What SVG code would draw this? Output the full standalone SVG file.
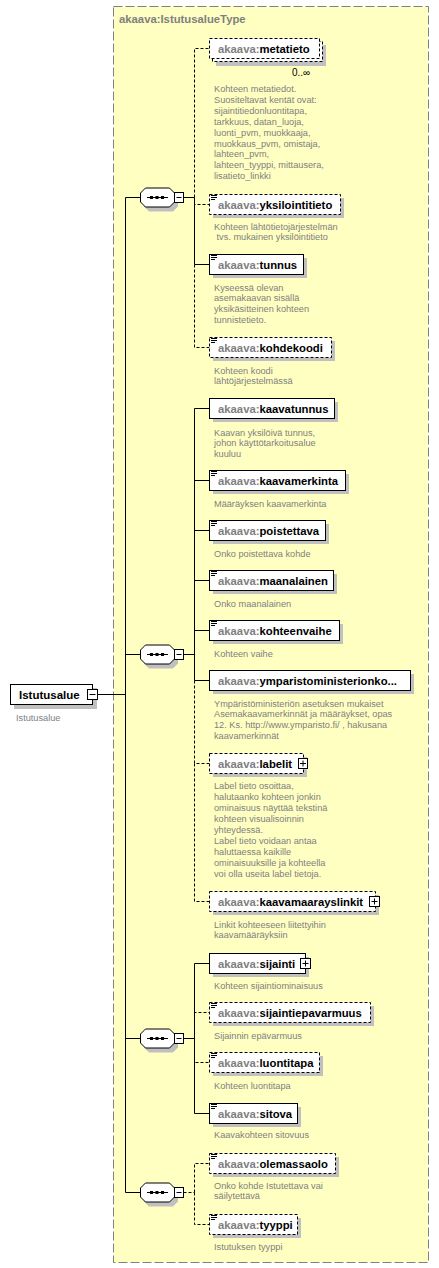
<svg xmlns="http://www.w3.org/2000/svg" width="439" height="1268" viewBox="0 0 439 1268">
<style>
.frame{fill:#FFFFC2;stroke:#808080;stroke-dasharray:9 3}
.title{font:bold 11.3px 'Liberation Sans',Arial,sans-serif;fill:#808080}
.box{fill:#fff;stroke:#000}
.opt{stroke-dasharray:3 2}
.sh{fill:#C0C0C0}
.nm{font:bold 11.3px 'Liberation Sans',Arial,sans-serif;fill:#000}
.pf{fill:#808080}
.desc{font:9.2px 'Liberation Sans',Arial,sans-serif;fill:#808080}
.ln{stroke:#000;fill:none}
.dl{stroke-dasharray:3 2}
.ic{stroke:#000;fill:none}
.mult{font:10px 'Liberation Sans',Arial,sans-serif;fill:#000}
</style>
<rect class="frame" x="113.5" y="6.5" width="315" height="1256"/>
<text class="title" x="119" y="23">akaava:IstutusalueType</text>

<g id="connectors">
<path class="ln" d="M97.5,694.5H125.5M125.5,197.5V1192.5"/>
<path class="ln" d="M125.5,197.5H140.5M125.5,654.5H140.5M125.5,1038.5H140.5M125.5,1192.5H140.5"/>
<path class="ln" d="M183.5,197.5H194.5M183.5,654.5H194.5M183.5,1038.5H194.5"/>
<path class="ln dl" d="M183.5,1192.5H194.5"/>
<path class="ln dl" d="M194.5,197.5V48.5H209.5"/>
<path class="ln dl" d="M194.5,197.5V204.5H209.5"/>
<path class="ln" d="M194.5,197.5V264.5H209.5"/>
<path class="ln dl" d="M194.5,264.5V347.5H209.5"/>
<path class="ln" d="M194.5,654.5V408.5H209.5"/>
<path class="ln" d="M194.5,654.5V480.5H209.5"/>
<path class="ln" d="M194.5,654.5V530.5H209.5"/>
<path class="ln" d="M194.5,654.5V580.5H209.5"/>
<path class="ln" d="M194.5,654.5V630.5H209.5"/>
<path class="ln" d="M194.5,654.5V680.5H209.5"/>
<path class="ln dl" d="M194.5,680.5V763.5H209.5"/>
<path class="ln dl" d="M194.5,763.5V901.5H209.5"/>
<path class="ln" d="M194.5,1038.5V963.5H209.5"/>
<path class="ln dl" d="M194.5,1038.5V1012.5H209.5"/>
<path class="ln dl" d="M194.5,1038.5V1062.5H209.5"/>
<path class="ln" d="M194.5,1038.5V1113.5H209.5"/>
<path class="ln dl" d="M194.5,1192.5V1163.5H209.5"/>
<path class="ln dl" d="M194.5,1192.5V1224.5H209.5"/>
</g>

<defs>
<g id="seqshape">
<polygon class="sh" points="149,4 173,4 178,9 178,19 173,24 149,24 144,19 144,9" transform="translate(0,-10)"/>
<polygon class="box" points="145.5,-9.5 169.5,-9.5 174.5,-4.5 174.5,4.5 169.5,9.5 145.5,9.5 140.5,4.5 140.5,-4.5"/>
<path class="ln" d="M147,0H168"/>
<rect x="150" y="-1.5" width="3" height="3" fill="#000"/>
<rect x="155.5" y="-1.5" width="3" height="3" fill="#000"/>
<rect x="161" y="-1.5" width="3" height="3" fill="#000"/>
<rect class="box" x="174.5" y="-5" width="9" height="10"/>
<path class="ln" d="M176.5,0H181.5"/>
</g>
</defs>

<g id="seq1"><use href="#seqshape" transform="translate(0,197.5)"/></g>
<g id="seq2"><use href="#seqshape" transform="translate(0,654.5)"/></g>
<g id="seq3"><use href="#seqshape" transform="translate(0,1038.5)"/></g>
<g id="seq4"><use href="#seqshape" transform="translate(0,1192.5)"/></g>

<g id="Istutusalue">
<rect class="sh" x="14" y="688" width="83" height="21"/>
<rect class="box" x="10.5" y="684.5" width="82" height="20"/>
<text class="nm" x="19" y="698.5" style="font-size:11.5px">Istutusalue</text>
<rect class="box" x="87.5" y="689.5" width="10" height="10"/>
<path class="ln" d="M89.5,694.5H95.5"/>
<text class="desc" x="16" y="720.5">Istutusalue</text>
</g>

<g id="metatieto">
<rect class="sh" x="216" y="45" width="110" height="21"/>
<rect class="box opt" x="212.5" y="41.5" width="110" height="20"/>
<rect class="box opt" x="209.5" y="38.5" width="110" height="20"/>
<text class="nm" x="218" y="52.5"><tspan class="pf">akaava:</tspan>metatieto</text>
<text class="mult" x="292" y="76">0..∞</text>
<text class="desc" x="214" y="92"><tspan x="214">Kohteen metatiedot.</tspan><tspan x="214" dy="10.9">Suositeltavat kentät ovat:</tspan><tspan x="214" dy="10.9">sijaintitiedonluontitapa,</tspan><tspan x="214" dy="10.9">tarkkuus, datan_luoja,</tspan><tspan x="214" dy="10.9">luonti_pvm, muokkaaja,</tspan><tspan x="214" dy="10.9">muokkaus_pvm, omistaja,</tspan><tspan x="214" dy="10.9">lahteen_pvm,</tspan><tspan x="214" dy="10.9">lahteen_tyyppi, mittausera,</tspan><tspan x="214" dy="10.9">lisatieto_linkki</tspan></text>
</g>

<g id="yksilointitieto">
<rect class="sh" x="213" y="198" width="131" height="20"/>
<rect class="box opt" x="209.5" y="194.5" width="131" height="20"/>
<path class="ic" d="M211,195.5h6M211,197.5h6M211,199.5h4"/>
<text class="nm" x="218" y="208.5"><tspan class="pf">akaava:</tspan>yksilointitieto</text>
<text class="desc" x="214" y="229.5" xml:space="preserve"><tspan x="214">Kohteen lähtötietojärjestelmän</tspan><tspan x="214" dy="10.9"> tvs. mukainen yksilöintitieto</tspan></text>
</g>

<g id="tunnus">
<rect class="sh" x="213" y="258" width="94" height="20"/>
<rect class="box" x="209.5" y="254.5" width="94" height="20"/>
<path class="ic" d="M211,255.5h6M211,257.5h6M211,259.5h4"/>
<text class="nm" x="218" y="268.5"><tspan class="pf">akaava:</tspan>tunnus</text>
<text class="desc" x="214" y="290.5"><tspan x="214">Kyseessä olevan</tspan><tspan x="214" dy="10.9">asemakaavan sisällä</tspan><tspan x="214" dy="10.9">yksikäsitteinen kohteen</tspan><tspan x="214" dy="10.9">tunnistetieto.</tspan></text>
</g>

<g id="kohdekoodi">
<rect class="sh" x="213" y="341" width="122" height="20"/>
<rect class="box opt" x="209.5" y="337.5" width="122" height="20"/>
<path class="ic" d="M211,338.5h6M211,340.5h6M211,342.5h4"/>
<text class="nm" x="218" y="351.5"><tspan class="pf">akaava:</tspan>kohdekoodi</text>
<text class="desc" x="214" y="373.5"><tspan x="214">Kohteen koodi</tspan><tspan x="214" dy="10.9">lähtöjärjestelmässä</tspan></text>
</g>

<g id="kaavatunnus">
<rect class="sh" x="213" y="402" width="125" height="20"/>
<rect class="box" x="209.5" y="398.5" width="125" height="20"/>
<text class="nm" x="218" y="412.5"><tspan class="pf">akaava:</tspan>kaavatunnus</text>
<text class="desc" x="214" y="435.5"><tspan x="214">Kaavan yksilöivä tunnus,</tspan><tspan x="214" dy="10.9">johon käyttötarkoitusalue</tspan><tspan x="214" dy="10.9">kuuluu</tspan></text>
</g>

<g id="kaavamerkinta">
<rect class="sh" x="213" y="474" width="136" height="20"/>
<rect class="box" x="209.5" y="470.5" width="136" height="20"/>
<path class="ic" d="M211,471.5h6M211,473.5h6M211,475.5h4"/>
<text class="nm" x="218" y="484.5"><tspan class="pf">akaava:</tspan>kaavamerkinta</text>
<text class="desc" x="214" y="506.5">Määräyksen kaavamerkinta</text>
</g>

<g id="poistettava">
<rect class="sh" x="213" y="524" width="116" height="20"/>
<rect class="box" x="209.5" y="520.5" width="116" height="20"/>
<path class="ic" d="M211,521.5h6M211,523.5h6M211,525.5h4"/>
<text class="nm" x="218" y="534.5"><tspan class="pf">akaava:</tspan>poistettava</text>
<text class="desc" x="214" y="556.5">Onko poistettava kohde</text>
</g>

<g id="maanalainen">
<rect class="sh" x="213" y="574" width="124" height="20"/>
<rect class="box" x="209.5" y="570.5" width="124" height="20"/>
<path class="ic" d="M211,571.5h6M211,573.5h6M211,575.5h4"/>
<text class="nm" x="218" y="584.5"><tspan class="pf">akaava:</tspan>maanalainen</text>
<text class="desc" x="214" y="606.5">Onko maanalainen</text>
</g>

<g id="kohteenvaihe">
<rect class="sh" x="213" y="624" width="130" height="20"/>
<rect class="box" x="209.5" y="620.5" width="130" height="20"/>
<path class="ic" d="M211,621.5h6M211,623.5h6M211,625.5h4"/>
<text class="nm" x="218" y="634.5"><tspan class="pf">akaava:</tspan>kohteenvaihe</text>
<text class="desc" x="214" y="656.5">Kohteen vaihe</text>
</g>

<g id="ymparistoministerionkoodi">
<rect class="sh" x="213" y="674" width="201" height="20"/>
<rect class="box" x="209.5" y="670.5" width="201" height="20"/>
<text class="nm" x="218" y="684.5"><tspan class="pf">akaava:</tspan>ymparistoministerionko...</text>
<text class="desc" x="214" y="706.5"><tspan x="214">Ympäristöministeriön asetuksen mukaiset</tspan><tspan x="214" dy="10.9">Asemakaavamerkinnät ja määräykset, opas</tspan><tspan x="214" dy="10.9">12. Ks. http://www.ymparisto.fi/ , hakusana</tspan><tspan x="214" dy="10.9">kaavamerkinnät</tspan></text>
</g>

<g id="labelit">
<rect class="sh" x="213" y="757" width="94" height="20"/>
<rect class="box opt" x="209.5" y="753.5" width="94" height="20"/>
<text class="nm" x="218" y="767.5"><tspan class="pf">akaava:</tspan>labelit</text>
<rect class="box" x="298.5" y="758.5" width="9" height="10"/>
<path class="ln" d="M300,763.5H306M303,760.5V766.5"/>
<text class="desc" x="214" y="789.3"><tspan x="214">Label tieto osoittaa,</tspan><tspan x="214" dy="10.9">halutaanko kohteen jonkin</tspan><tspan x="214" dy="10.9">ominaisuus näyttää tekstinä</tspan><tspan x="214" dy="10.9">kohteen visualisoinnin</tspan><tspan x="214" dy="10.9">yhteydessä.</tspan><tspan x="214" dy="10.9">Label tieto voidaan antaa</tspan><tspan x="214" dy="10.9">haluttaessa kaikille</tspan><tspan x="214" dy="10.9">ominaisuuksille ja kohteella</tspan><tspan x="214" dy="10.9">voi olla useita label tietoja.</tspan></text>
</g>

<g id="kaavamaarayslinkit">
<rect class="sh" x="213" y="895" width="166" height="20"/>
<rect class="box opt" x="209.5" y="891.5" width="166" height="20"/>
<text class="nm" x="218" y="905.5"><tspan class="pf">akaava:</tspan>kaavamaarayslinkit</text>
<rect class="box" x="369.5" y="896.5" width="10" height="10"/>
<path class="ln" d="M371.5,901.5H377.5M374.5,898.5V904.5"/>
<text class="desc" x="214" y="927.5"><tspan x="214">Linkit kohteeseen liitettyihin</tspan><tspan x="214" dy="10.9">kaavamääräyksiin</tspan></text>
</g>

<g id="sijainti">
<rect class="sh" x="213" y="957" width="96" height="20"/>
<rect class="box" x="209.5" y="953.5" width="96" height="20"/>
<text class="nm" x="218" y="967.5"><tspan class="pf">akaava:</tspan>sijainti</text>
<rect class="box" x="300.5" y="958.5" width="10" height="10"/>
<path class="ln" d="M302.5,963.5H308.5M305.5,960.5V966.5"/>
<text class="desc" x="214" y="988.5">Kohteen sijaintiominaisuus</text>
</g>

<g id="sijaintiepavarmuus">
<rect class="sh" x="213" y="1006" width="161" height="20"/>
<rect class="box opt" x="209.5" y="1002.5" width="161" height="20"/>
<path class="ic" d="M211,1003.5h6M211,1005.5h6M211,1007.5h4"/>
<text class="nm" x="218" y="1016.5"><tspan class="pf">akaava:</tspan>sijaintiepavarmuus</text>
<text class="desc" x="214" y="1038.5">Sijainnin epävarmuus</text>
</g>

<g id="luontitapa">
<rect class="sh" x="213" y="1056" width="110" height="20"/>
<rect class="box opt" x="209.5" y="1052.5" width="110" height="20"/>
<path class="ic" d="M211,1053.5h6M211,1055.5h6M211,1057.5h4"/>
<text class="nm" x="218" y="1066.5"><tspan class="pf">akaava:</tspan>luontitapa</text>
<text class="desc" x="214" y="1088.5">Kohteen luontitapa</text>
</g>

<g id="sitova">
<rect class="sh" x="213" y="1107" width="88" height="20"/>
<rect class="box" x="209.5" y="1103.5" width="88" height="20"/>
<path class="ic" d="M211,1104.5h6M211,1106.5h6M211,1108.5h4"/>
<text class="nm" x="218" y="1117.5"><tspan class="pf">akaava:</tspan>sitova</text>
<text class="desc" x="214" y="1137.5">Kaavakohteen sitovuus</text>
</g>

<g id="olemassaolo">
<rect class="sh" x="213" y="1157" width="126" height="20"/>
<rect class="box opt" x="209.5" y="1153.5" width="126" height="20"/>
<path class="ic" d="M211,1154.5h6M211,1156.5h6M211,1158.5h4"/>
<text class="nm" x="218" y="1167.5"><tspan class="pf">akaava:</tspan>olemassaolo</text>
<text class="desc" x="214" y="1188.5"><tspan x="214">Onko kohde Istutettava vai</tspan><tspan x="214" dy="10.9">säilytettävä</tspan></text>
</g>

<g id="tyyppi">
<rect class="sh" x="213" y="1218" width="88" height="20"/>
<rect class="box opt" x="209.5" y="1214.5" width="88" height="20"/>
<path class="ic" d="M211,1215.5h6M211,1217.5h6M211,1219.5h4"/>
<text class="nm" x="218" y="1228.5"><tspan class="pf">akaava:</tspan>tyyppi</text>
<text class="desc" x="214" y="1249.5">Istutuksen tyyppi</text>
</g>
</svg>
